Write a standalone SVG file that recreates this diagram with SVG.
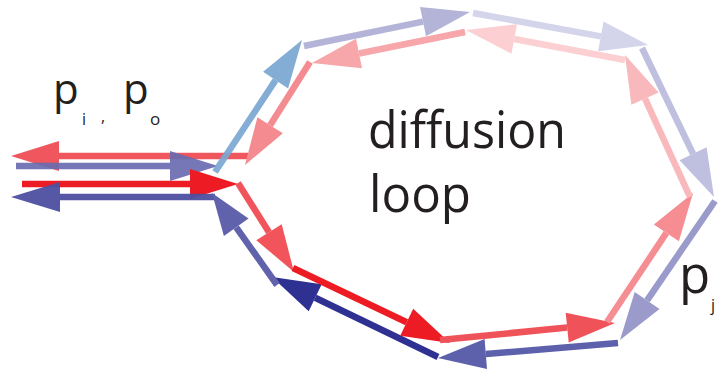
<svg xmlns="http://www.w3.org/2000/svg" width="720" height="372" viewBox="0 0 720 372">
<style>
  .ln{fill:none;stroke-width:6.5;stroke-linecap:butt}
  .lbl{font-family:"Open Sans","Noto Sans","DejaVu Sans",sans-serif;fill:#231f20}
  .c1{stroke:#ef4e56;fill:#ef4e56}
  .c2{stroke:#6a6cb0;fill:#6a6cb0}
  .c3{stroke:#ed1c24;fill:#ed1c24}
  .c4{stroke:#4d50a1;fill:#4d50a1}
  .c5{stroke:#7aa7d3;fill:#7aa7d3}
  .c6{stroke:#b4b4d9;fill:#b4b4d9}
  .c7{stroke:#d4d4eb;fill:#d4d4eb}
  .c8{stroke:#bfbfdf;fill:#bfbfdf}
  .c9{stroke:#9a9acb;fill:#9a9acb}
  .c10{stroke:#5d60aa;fill:#5d60aa}
  .c11{stroke:#2e3192;fill:#2e3192}
  .c12{stroke:#6062ab;fill:#6062ab}
  .c13{stroke:#f1545b;fill:#f1545b}
  .c14{stroke:#f0525a;fill:#f0525a}
  .c15{stroke:#f58d92;fill:#f58d92}
  .c16{stroke:#f9b8bb;fill:#f9b8bb}
  .c17{stroke:#fcd0d2;fill:#fcd0d2}
  .c18{stroke:#f7a6aa;fill:#f7a6aa}
  .c19{stroke:#f48b90;fill:#f48b90}
  polygon{stroke:none}
</style>
<g id="connectors">
  <!-- left stubs -->
  <g class="c1" opacity="0.95"><line class="ln" x1="248" y1="156" x2="59" y2="156"/><polygon points="11,156 59,141 59,171"/></g>
  <g class="c2" opacity="0.92"><line class="ln" x1="16" y1="166" x2="170" y2="166"/><polygon points="218,166 170,151 170,181"/></g>
  <g class="c3"><line class="ln" x1="22" y1="184" x2="190" y2="184"/><polygon points="238,184 190,169 190,199"/></g>
  <g class="c4" opacity="0.95"><line class="ln" x1="215" y1="197" x2="60" y2="197"/><polygon points="11,197 60,182 60,212"/></g>
  <!-- outer (blue) loop -->
  <g class="c5" opacity="0.92"><line class="ln" x1="215" y1="172" x2="275.6" y2="80.1"/><polygon points="302,40 288.1,88.4 263.1,71.8"/></g>
  <g class="c6"><line class="ln" x1="304" y1="46" x2="423" y2="21.6"/><polygon points="470,12 426,36.3 420,6.9"/></g>
  <g class="c7"><line class="ln" x1="473" y1="13" x2="600.8" y2="36.4"/><polygon points="648,45 598.1,51.2 603.5,21.6"/></g>
  <g class="c8"><line class="ln" x1="642" y1="48" x2="693.1" y2="153.8"/><polygon points="714,197 679.6,160.3 706.6,147.3"/></g>
  <g class="c9"><line class="ln" x1="715" y1="201" x2="647.1" y2="300.4"/><polygon points="620,340 659.5,308.9 634.7,291.9"/></g>
  <g class="c10"><line class="ln" x1="618" y1="343" x2="485.8" y2="354"/><polygon points="438,358 487,369 484.6,339"/></g>
  <g class="c11"><line class="ln" x1="438" y1="357" x2="315.2" y2="297.8"/><polygon points="272,277 321.7,284.3 308.7,311.3"/></g>
  <g class="c12"><line class="ln" x1="277" y1="285" x2="236.2" y2="227.3"/><polygon points="212,193 248.5,218.6 223.9,236"/></g>
  <!-- inner (red) loop -->
  <g class="c13"><line class="ln" x1="238" y1="183" x2="269" y2="232.2"/><polygon points="294,272 256.3,240.2 281.7,224.2"/></g>
  <g class="c3"><line class="ln" x1="293" y1="268" x2="406.7" y2="322.3"/><polygon points="450,343 400.2,335.8 413.2,308.8"/></g>
  <g class="c14"><line class="ln" x1="440" y1="340" x2="567.2" y2="327.6"/><polygon points="615,323 568.7,342.5 565.7,312.7"/></g>
  <g class="c15"><line class="ln" x1="607" y1="322" x2="666.4" y2="232.9"/><polygon points="693,193 678.9,241.2 653.9,224.6"/></g>
  <g class="c16"><line class="ln" x1="690" y1="197" x2="645" y2="98.6"/><polygon points="625,55 658.6,92.4 631.4,104.8"/></g>
  <g class="c17"><line class="ln" x1="625" y1="60" x2="514.2" y2="39"/><polygon points="466,30 517,24.3 511.4,53.7"/></g>
  <g class="c18"><line class="ln" x1="465" y1="32" x2="359" y2="53.5"/><polygon points="312,63 362,68.2 356,38.8"/></g>
  <g class="c19"><line class="ln" x1="310" y1="62" x2="270.1" y2="125.3"/><polygon points="245,165 282.8,133.3 257.4,117.3"/></g>
</g>
<g id="label-loop">
  <text class="lbl" x="368" y="148" font-size="52" textLength="198" lengthAdjust="spacingAndGlyphs">diffusion</text>
  <text class="lbl" x="369" y="212" font-size="52" textLength="102" lengthAdjust="spacingAndGlyphs">loop</text>
</g>
<g id="label-pi-po">
  <text class="lbl" x="53" y="104" font-size="42">p</text>
  <text class="lbl" x="82" y="125" font-size="16">i</text>
  <text class="lbl" x="101" y="122" font-size="16">,</text>
  <text class="lbl" x="123" y="104" font-size="42">p</text>
  <text class="lbl" x="150" y="125" font-size="17">o</text>
</g>
<g id="label-pj">
  <text class="lbl" x="679" y="293" font-size="51">p</text>
  <text class="lbl" x="711" y="311" font-size="16">j</text>
</g>
</svg>
